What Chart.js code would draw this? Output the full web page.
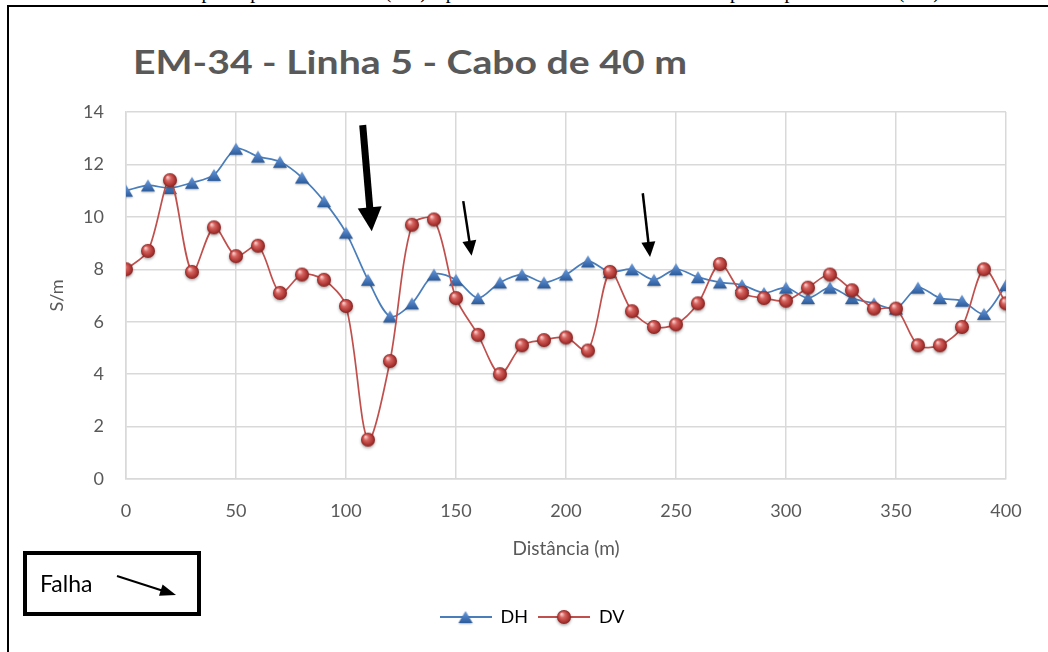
<!DOCTYPE html>
<html lang="pt-BR">
<head>
<meta charset="utf-8">
<title>EM-34 - Linha 5 - Cabo de 40 m</title>
<script src="https://cdn.jsdelivr.net/npm/chart.js@4.4.1/dist/chart.umd.min.js"></script>
<style>
  html, body { margin: 0; padding: 0; background: #fff; }
  body { position: relative; width: 1048px; height: 652px; overflow: hidden; font-family: Lato, 'Open Sans', sans-serif; }
  .texto-topo { position: absolute; right: 103px; top: -20px; font: 20px/22px 'Liberation Serif', 'DejaVu Serif', serif; color: #000; white-space: nowrap; }
  .moldura { position: absolute; left: 7px; top: 5px; width: 1070px; height: 680px; border: 2px solid #000; }
  .titulo { position: absolute; left: 133px; top: 46px; font: bold 32px/32px Lato, sans-serif; color: #595959; white-space: nowrap; transform-origin: 0 50%; }
  #grafico { position: absolute; left: 0; top: 0; }
  .falha { position: absolute; left: 23px; top: 551px; width: 178px; height: 65px; border: 4px solid #000; box-sizing: border-box; }
  .falha span { position: absolute; left: 13px; top: 14px; font: 23px/28px Lato, sans-serif; color: #000; }
  .falha svg { position: absolute; left: 0; top: 0; }
</style>
</head>
<body>
<div class="texto-topo">mapa do perfil horizontal (DH) e profundidade de base de 30 metros para o perfil vertical (DV).</div>
<div class="moldura"></div>
<div class="titulo" id="titulo">EM-34 - Linha 5 - Cabo de 40 m</div>
<canvas id="grafico" width="1048" height="652"></canvas>
<div class="falha">
  <span>Falha</span>
  <svg width="170" height="57">
    <line x1="90" y1="21" x2="135" y2="35.5" stroke="#000" stroke-width="2"/>
    <polygon points="149,40 135.6,29.4 132,40.8" fill="#000"/>
  </svg>
</div>
<script>
// distancia ao longo da linha (m)
const distancias = [0, 10, 20, 30, 40, 50, 60, 70, 80, 90, 100, 110, 120, 130, 140, 150, 160, 170, 180, 190, 200,
  210, 220, 230, 240, 250, 260, 270, 280, 290, 300, 310, 320, 330, 340, 350, 360, 370, 380, 390, 400];

// condutividade (S/m) - dipolo horizontal
const valoresDH = [11.0, 11.2, 11.1, 11.3, 11.6, 12.6, 12.3, 12.1, 11.5, 10.6, 9.4, 7.6, 6.2, 6.7, 7.8, 7.6, 6.9, 7.5, 7.8, 7.5, 7.8,
  8.3, 7.9, 8.0, 7.6, 8.0, 7.7, 7.5, 7.4, 7.1, 7.3, 6.9, 7.3, 6.9, 6.7, 6.5, 7.3, 6.9, 6.8, 6.3, 7.4];

// condutividade (S/m) - dipolo vertical
const valoresDV = [8.0, 8.7, 11.4, 7.9, 9.6, 8.5, 8.9, 7.1, 7.8, 7.6, 6.6, 1.5, 4.5, 9.7, 9.9, 6.9, 5.5, 4.0, 5.1, 5.3, 5.4,
  4.9, 7.9, 6.4, 5.8, 5.9, 6.7, 8.2, 7.1, 6.9, 6.8, 7.3, 7.8, 7.2, 6.5, 6.5, 5.1, 5.1, 5.8, 8.0, 6.7];

const ticksX = [0, 50, 100, 150, 200, 250, 300, 350, 400];
const ticksY = [0, 2, 4, 6, 8, 10, 12, 14];

// setas de "falha" (em unidades do grafico)
const setas = [
  { de: [107.6, 13.5], ate: [111.7, 9.45], haste: 7, cabLarg: 24, cabComp: 24 },
  { de: [153.3, 10.6], ate: [157.1, 8.52], haste: 2.5, cabLarg: 14, cabComp: 15 },
  { de: [234.9, 10.9], ate: [238.2, 8.47], haste: 2.5, cabLarg: 14, cabComp: 15 }
];

const azulLinha = '#4a7ebb';
const vermelhoLinha = '#c0504d';
const cinzaTexto = '#595959';
const cinzaGrade = '#d9d9d9';

const desenhaTriangulo = (ctx, cx, cy) => {
  const w = 14, h = 12;
  ctx.save();
  ctx.shadowColor = 'rgba(0,0,0,0.3)';
  ctx.shadowBlur = 2;
  ctx.shadowOffsetY = 1;
  const g = ctx.createLinearGradient(0, cy - h / 2, 0, cy + h / 2);
  g.addColorStop(0, '#6c9de0');
  g.addColorStop(1, '#2c5b9c');
  ctx.beginPath();
  ctx.moveTo(cx, cy - h / 2);
  ctx.lineTo(cx + w / 2, cy + h / 2);
  ctx.lineTo(cx - w / 2, cy + h / 2);
  ctx.closePath();
  ctx.fillStyle = g;
  ctx.fill();
  ctx.restore();
};

const desenhaEsfera = (ctx, cx, cy) => {
  const r = 7;
  ctx.save();
  ctx.shadowColor = 'rgba(0,0,0,0.35)';
  ctx.shadowBlur = 3;
  ctx.shadowOffsetY = 1.5;
  const g = ctx.createRadialGradient(cx - 2.5, cy - 3, 0.5, cx, cy, r);
  g.addColorStop(0, '#f7c9c7');
  g.addColorStop(0.35, '#d6625e');
  g.addColorStop(0.8, '#aa3431');
  g.addColorStop(1, '#862422');
  ctx.beginPath();
  ctx.arc(cx, cy, r, 0, Math.PI * 2);
  ctx.fillStyle = g;
  ctx.fill();
  ctx.restore();
};

const criaMarcador = (largura, altura, desenho, cor) => {
  const c = document.createElement('canvas');
  c.width = largura;
  c.height = altura;
  const ctx = c.getContext('2d');
  if (cor) {
    ctx.strokeStyle = cor;
    ctx.lineWidth = 2;
    ctx.beginPath();
    ctx.moveTo(0, altura / 2);
    ctx.lineTo(largura, altura / 2);
    ctx.stroke();
  }
  desenho(ctx, largura / 2, altura / 2);
  return c;
};

const marcadorDH = criaMarcador(20, 20, desenhaTriangulo);
const marcadorDV = criaMarcador(22, 22, desenhaEsfera);
const legendaDH = criaMarcador(52, 20, desenhaTriangulo, azulLinha);
const legendaDV = criaMarcador(52, 22, desenhaEsfera, vermelhoLinha);

const pluginSetas = {
  id: 'setas',
  afterDatasetsDraw(chart) {
    const { ctx, scales: { x, y } } = chart;
    ctx.save();
    ctx.fillStyle = '#000';
    ctx.strokeStyle = '#000';
    setas.forEach((s) => {
      const x0 = x.getPixelForValue(s.de[0]);
      const y0 = y.getPixelForValue(s.de[1]);
      const x1 = x.getPixelForValue(s.ate[0]);
      const y1 = y.getPixelForValue(s.ate[1]);
      const comp = Math.hypot(x1 - x0, y1 - y0);
      const dx = (x1 - x0) / comp;
      const dy = (y1 - y0) / comp;
      const bx = x1 - dx * s.cabComp;
      const by = y1 - dy * s.cabComp;
      ctx.lineWidth = s.haste;
      ctx.beginPath();
      ctx.moveTo(x0, y0);
      ctx.lineTo(bx + dx, by + dy);
      ctx.stroke();
      ctx.beginPath();
      ctx.moveTo(x1, y1);
      ctx.lineTo(bx - dy * s.cabLarg / 2, by + dx * s.cabLarg / 2);
      ctx.lineTo(bx + dy * s.cabLarg / 2, by - dx * s.cabLarg / 2);
      ctx.closePath();
      ctx.fill();
    });
    ctx.restore();
  }
};

// centraliza a legenda como no original
const pluginLegenda = {
  id: 'deslocaLegenda',
  afterLayout(chart) {
    if (!chart.legend) return;
    chart.legend.left += 29;
    chart.legend.right += 29;
  }
};

const titulo = document.getElementById('titulo');
const medida = document.createElement('canvas').getContext('2d');
medida.font = 'bold 32px Lato';
titulo.style.transform = 'scaleX(' + (554 / medida.measureText(titulo.textContent).width) + ')';

new Chart(document.getElementById('grafico'), {
  type: 'line',
  data: {
    datasets: [
      {
        label: 'DH',
        data: distancias.map((d, i) => ({ x: d, y: valoresDH[i] })),
        borderColor: azulLinha,
        borderWidth: 1.7,
        pointStyle: marcadorDH,
        tension: 0.3,
        order: 2
      },
      {
        label: 'DV',
        data: distancias.map((d, i) => ({ x: d, y: valoresDV[i] })),
        borderColor: vermelhoLinha,
        borderWidth: 1.7,
        pointStyle: marcadorDV,
        tension: 0.3,
        order: 1
      }
    ]
  },
  options: {
    responsive: false,
    devicePixelRatio: 1,
    animation: false,
    events: [],
    layout: { padding: { top: 112, right: 42, bottom: 16, left: 0 } },
    scales: {
      x: {
        type: 'linear',
        min: 0,
        max: 400,
        afterBuildTicks: (axis) => { axis.ticks = ticksX.map((v) => ({ value: v })); },
        afterFit: (axis) => { axis.height = 119; },
        grid: { color: cinzaGrade, lineWidth: 1.5, drawTicks: false },
        border: { color: cinzaGrade, width: 1.5 },
        ticks: { padding: 21, color: cinzaTexto, font: { family: 'Lato', size: 18 } },
        title: {
          display: true,
          text: 'Distância (m)',
          color: cinzaTexto,
          font: { family: 'Lato', size: 19 },
          padding: { top: 0, bottom: 38 }
        }
      },
      y: {
        min: 0,
        max: 14,
        afterBuildTicks: (axis) => { axis.ticks = ticksY.map((v) => ({ value: v })); },
        afterFit: (axis) => { axis.width = 126; },
        grid: { color: cinzaGrade, lineWidth: 1.5, drawTicks: false },
        border: { color: cinzaGrade, width: 1.5 },
        ticks: { padding: 22, color: cinzaTexto, font: { family: 'Lato', size: 18 } },
        title: {
          display: true,
          text: 'S/m',
          color: cinzaTexto,
          font: { family: 'Lato', size: 18 },
          padding: { top: 46, bottom: 0 }
        }
      }
    },
    plugins: {
      tooltip: { enabled: false },
      legend: {
        position: 'bottom',
        labels: {
          usePointStyle: true,
          pointStyleWidth: 52,
          padding: 10,
          color: cinzaTexto,
          font: { family: 'Lato', size: 18 },
          generateLabels: () => [
            { text: 'DH', pointStyle: legendaDH, fillStyle: azulLinha, strokeStyle: azulLinha, lineWidth: 0, datasetIndex: 0 },
            { text: 'DV', pointStyle: legendaDV, fillStyle: vermelhoLinha, strokeStyle: vermelhoLinha, lineWidth: 0, datasetIndex: 1 }
          ]
        }
      }
    }
  },
  plugins: [pluginSetas, pluginLegenda]
});
</script>
</body>
</html>
